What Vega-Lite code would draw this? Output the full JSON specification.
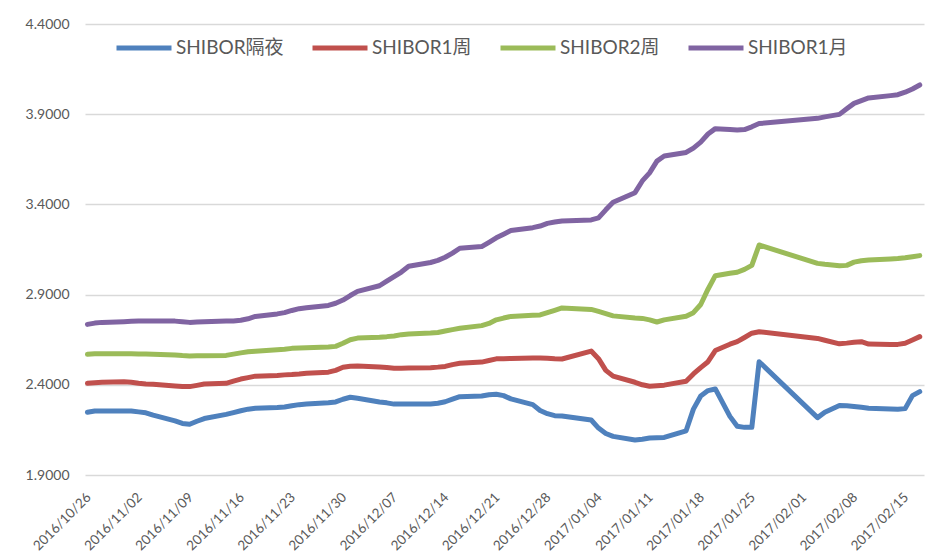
{
  "$schema": "https://vega.github.io/schema/vega-lite/v6.json",
  "autosize": {"type": "none"},
  "padding": {"left": 85, "top": 24, "right": 18, "bottom": 83},
  "width": 839,
  "height": 451,
  "background": "white",
  "config": {
    "view": {"stroke": null},
    "font": "Lato, Noto Sans CJK SC",
    "axis": {"labelFont": "Lato, Noto Sans CJK SC", "labelColor": "#595959"},
    "legend": {"labelFont": "Lato, Noto Sans CJK SC"}
  },
  "data": {
    "values": [
      {"d": "2016/10/26", "SHIBOR隔夜": 2.248, "SHIBOR1周": 2.408, "SHIBOR2周": 2.569, "SHIBOR1月": 2.735},
      {"d": "2016/10/27", "SHIBOR隔夜": 2.255, "SHIBOR1周": 2.411, "SHIBOR2周": 2.572, "SHIBOR1月": 2.742},
      {"d": "2016/10/28", "SHIBOR隔夜": 2.255, "SHIBOR1周": 2.414, "SHIBOR2周": 2.572, "SHIBOR1月": 2.746},
      {"d": "2016/10/31", "SHIBOR隔夜": 2.255, "SHIBOR1周": 2.417, "SHIBOR2周": 2.572, "SHIBOR1月": 2.750},
      {"d": "2016/11/01", "SHIBOR隔夜": 2.255, "SHIBOR1周": 2.414, "SHIBOR2周": 2.572, "SHIBOR1月": 2.752},
      {"d": "2016/11/02", "SHIBOR隔夜": 2.250, "SHIBOR1周": 2.409, "SHIBOR2周": 2.571, "SHIBOR1月": 2.754},
      {"d": "2016/11/03", "SHIBOR隔夜": 2.245, "SHIBOR1周": 2.405, "SHIBOR2周": 2.571, "SHIBOR1月": 2.754},
      {"d": "2016/11/04", "SHIBOR隔夜": 2.232, "SHIBOR1周": 2.403, "SHIBOR2周": 2.569, "SHIBOR1月": 2.754},
      {"d": "2016/11/07", "SHIBOR隔夜": 2.200, "SHIBOR1周": 2.394, "SHIBOR2周": 2.565, "SHIBOR1月": 2.753},
      {"d": "2016/11/08", "SHIBOR隔夜": 2.186, "SHIBOR1周": 2.391, "SHIBOR2周": 2.562, "SHIBOR1月": 2.750},
      {"d": "2016/11/09", "SHIBOR隔夜": 2.181, "SHIBOR1周": 2.390, "SHIBOR2周": 2.560, "SHIBOR1月": 2.746},
      {"d": "2016/11/10", "SHIBOR隔夜": 2.198, "SHIBOR1周": 2.397, "SHIBOR2周": 2.561, "SHIBOR1月": 2.748},
      {"d": "2016/11/11", "SHIBOR隔夜": 2.213, "SHIBOR1周": 2.404, "SHIBOR2周": 2.561, "SHIBOR1月": 2.750},
      {"d": "2016/11/14", "SHIBOR隔夜": 2.236, "SHIBOR1周": 2.408, "SHIBOR2周": 2.563, "SHIBOR1月": 2.753},
      {"d": "2016/11/15", "SHIBOR隔夜": 2.246, "SHIBOR1周": 2.420, "SHIBOR2周": 2.570, "SHIBOR1月": 2.754},
      {"d": "2016/11/16", "SHIBOR隔夜": 2.256, "SHIBOR1周": 2.432, "SHIBOR2周": 2.577, "SHIBOR1月": 2.758},
      {"d": "2016/11/17", "SHIBOR隔夜": 2.265, "SHIBOR1周": 2.440, "SHIBOR2周": 2.583, "SHIBOR1月": 2.766},
      {"d": "2016/11/18", "SHIBOR隔夜": 2.270, "SHIBOR1周": 2.448, "SHIBOR2周": 2.586, "SHIBOR1月": 2.779},
      {"d": "2016/11/21", "SHIBOR隔夜": 2.274, "SHIBOR1周": 2.452, "SHIBOR2周": 2.594, "SHIBOR1月": 2.793},
      {"d": "2016/11/22", "SHIBOR隔夜": 2.277, "SHIBOR1周": 2.455, "SHIBOR2周": 2.597, "SHIBOR1月": 2.800},
      {"d": "2016/11/23", "SHIBOR隔夜": 2.284, "SHIBOR1周": 2.457, "SHIBOR2周": 2.602, "SHIBOR1月": 2.812},
      {"d": "2016/11/24", "SHIBOR隔夜": 2.290, "SHIBOR1周": 2.460, "SHIBOR2周": 2.604, "SHIBOR1月": 2.822},
      {"d": "2016/11/25", "SHIBOR隔夜": 2.293, "SHIBOR1周": 2.464, "SHIBOR2周": 2.606, "SHIBOR1月": 2.827},
      {"d": "2016/11/28", "SHIBOR隔夜": 2.301, "SHIBOR1周": 2.470, "SHIBOR2周": 2.610, "SHIBOR1月": 2.840},
      {"d": "2016/11/29", "SHIBOR隔夜": 2.305, "SHIBOR1周": 2.480, "SHIBOR2周": 2.613, "SHIBOR1月": 2.852},
      {"d": "2016/11/30", "SHIBOR隔夜": 2.320, "SHIBOR1周": 2.497, "SHIBOR2周": 2.630, "SHIBOR1月": 2.870},
      {"d": "2016/12/01", "SHIBOR隔夜": 2.331, "SHIBOR1周": 2.503, "SHIBOR2周": 2.650, "SHIBOR1月": 2.895},
      {"d": "2016/12/02", "SHIBOR隔夜": 2.325, "SHIBOR1周": 2.504, "SHIBOR2周": 2.659, "SHIBOR1月": 2.918},
      {"d": "2016/12/05", "SHIBOR隔夜": 2.305, "SHIBOR1周": 2.499, "SHIBOR2周": 2.664, "SHIBOR1月": 2.949},
      {"d": "2016/12/06", "SHIBOR隔夜": 2.300, "SHIBOR1周": 2.496, "SHIBOR2周": 2.667, "SHIBOR1月": 2.975},
      {"d": "2016/12/07", "SHIBOR隔夜": 2.293, "SHIBOR1周": 2.492, "SHIBOR2周": 2.671, "SHIBOR1月": 3.000},
      {"d": "2016/12/08", "SHIBOR隔夜": 2.294, "SHIBOR1周": 2.492, "SHIBOR2周": 2.678, "SHIBOR1月": 3.025},
      {"d": "2016/12/09", "SHIBOR隔夜": 2.294, "SHIBOR1周": 2.493, "SHIBOR2周": 2.682, "SHIBOR1月": 3.057},
      {"d": "2016/12/12", "SHIBOR隔夜": 2.294, "SHIBOR1周": 2.495, "SHIBOR2周": 2.687, "SHIBOR1月": 3.078},
      {"d": "2016/12/13", "SHIBOR隔夜": 2.298, "SHIBOR1周": 2.498, "SHIBOR2周": 2.690, "SHIBOR1月": 3.090},
      {"d": "2016/12/14", "SHIBOR隔夜": 2.306, "SHIBOR1周": 2.502, "SHIBOR2周": 2.698, "SHIBOR1月": 3.107},
      {"d": "2016/12/15", "SHIBOR隔夜": 2.320, "SHIBOR1周": 2.512, "SHIBOR2周": 2.706, "SHIBOR1月": 3.130},
      {"d": "2016/12/16", "SHIBOR隔夜": 2.334, "SHIBOR1周": 2.519, "SHIBOR2周": 2.713, "SHIBOR1月": 3.157},
      {"d": "2016/12/19", "SHIBOR隔夜": 2.338, "SHIBOR1周": 2.526, "SHIBOR2周": 2.728, "SHIBOR1月": 3.166},
      {"d": "2016/12/20", "SHIBOR隔夜": 2.345, "SHIBOR1周": 2.535, "SHIBOR2周": 2.740, "SHIBOR1月": 3.190},
      {"d": "2016/12/21", "SHIBOR隔夜": 2.348, "SHIBOR1周": 2.544, "SHIBOR2周": 2.760, "SHIBOR1月": 3.215},
      {"d": "2016/12/22", "SHIBOR隔夜": 2.340, "SHIBOR1周": 2.545, "SHIBOR2周": 2.770, "SHIBOR1月": 3.235},
      {"d": "2016/12/23", "SHIBOR隔夜": 2.322, "SHIBOR1周": 2.546, "SHIBOR2周": 2.779, "SHIBOR1月": 3.255},
      {"d": "2016/12/26", "SHIBOR隔夜": 2.290, "SHIBOR1周": 2.548, "SHIBOR2周": 2.785, "SHIBOR1月": 3.271},
      {"d": "2016/12/27", "SHIBOR隔夜": 2.258, "SHIBOR1周": 2.548, "SHIBOR2周": 2.787, "SHIBOR1月": 3.280},
      {"d": "2016/12/28", "SHIBOR隔夜": 2.240, "SHIBOR1周": 2.547, "SHIBOR2周": 2.800, "SHIBOR1月": 3.295},
      {"d": "2016/12/29", "SHIBOR隔夜": 2.229, "SHIBOR1周": 2.544, "SHIBOR2周": 2.813, "SHIBOR1月": 3.302},
      {"d": "2016/12/30", "SHIBOR隔夜": 2.227, "SHIBOR1周": 2.543, "SHIBOR2周": 2.826, "SHIBOR1月": 3.308},
      {"d": "2017/01/03", "SHIBOR隔夜": 2.205, "SHIBOR1周": 2.587, "SHIBOR2周": 2.818, "SHIBOR1月": 3.314},
      {"d": "2017/01/04", "SHIBOR隔夜": 2.160, "SHIBOR1周": 2.545, "SHIBOR2周": 2.807, "SHIBOR1月": 3.325},
      {"d": "2017/01/05", "SHIBOR隔夜": 2.130, "SHIBOR1周": 2.480, "SHIBOR2周": 2.795, "SHIBOR1月": 3.370},
      {"d": "2017/01/06", "SHIBOR隔夜": 2.114, "SHIBOR1周": 2.448, "SHIBOR2周": 2.782, "SHIBOR1月": 3.412},
      {"d": "2017/01/09", "SHIBOR隔夜": 2.094, "SHIBOR1周": 2.414, "SHIBOR2周": 2.770, "SHIBOR1月": 3.465},
      {"d": "2017/01/10", "SHIBOR隔夜": 2.098, "SHIBOR1周": 2.400, "SHIBOR2周": 2.768, "SHIBOR1月": 3.530},
      {"d": "2017/01/11", "SHIBOR隔夜": 2.105, "SHIBOR1周": 2.392, "SHIBOR2周": 2.760, "SHIBOR1月": 3.575},
      {"d": "2017/01/12", "SHIBOR隔夜": 2.107, "SHIBOR1周": 2.395, "SHIBOR2周": 2.748, "SHIBOR1月": 3.640},
      {"d": "2017/01/13", "SHIBOR隔夜": 2.108, "SHIBOR1周": 2.398, "SHIBOR2周": 2.760, "SHIBOR1月": 3.668},
      {"d": "2017/01/16", "SHIBOR隔夜": 2.145, "SHIBOR1周": 2.420, "SHIBOR2周": 2.780, "SHIBOR1月": 3.688},
      {"d": "2017/01/17", "SHIBOR隔夜": 2.265, "SHIBOR1周": 2.460, "SHIBOR2周": 2.800, "SHIBOR1月": 3.712},
      {"d": "2017/01/18", "SHIBOR隔夜": 2.338, "SHIBOR1周": 2.495, "SHIBOR2周": 2.845, "SHIBOR1月": 3.745},
      {"d": "2017/01/19", "SHIBOR隔夜": 2.368, "SHIBOR1周": 2.528, "SHIBOR2周": 2.930, "SHIBOR1月": 3.790},
      {"d": "2017/01/20", "SHIBOR隔夜": 2.377, "SHIBOR1周": 2.590, "SHIBOR2周": 3.005, "SHIBOR1月": 3.820},
      {"d": "2017/01/22", "SHIBOR隔夜": 2.225, "SHIBOR1周": 2.625, "SHIBOR2周": 3.018, "SHIBOR1月": 3.815},
      {"d": "2017/01/23", "SHIBOR隔夜": 2.170, "SHIBOR1周": 2.639, "SHIBOR2周": 3.024, "SHIBOR1月": 3.812},
      {"d": "2017/01/24", "SHIBOR隔夜": 2.164, "SHIBOR1周": 2.662, "SHIBOR2周": 3.040, "SHIBOR1月": 3.815},
      {"d": "2017/01/25", "SHIBOR隔夜": 2.164, "SHIBOR1周": 2.686, "SHIBOR2周": 3.062, "SHIBOR1月": 3.830},
      {"d": "2017/01/26", "SHIBOR隔夜": 2.528, "SHIBOR1周": 2.694, "SHIBOR2周": 3.175, "SHIBOR1月": 3.848},
      {"d": "2017/02/03", "SHIBOR隔夜": 2.218, "SHIBOR1周": 2.657, "SHIBOR2周": 3.073, "SHIBOR1月": 3.877},
      {"d": "2017/02/04", "SHIBOR隔夜": 2.248, "SHIBOR1周": 2.647, "SHIBOR2周": 3.068, "SHIBOR1月": 3.885},
      {"d": "2017/02/06", "SHIBOR隔夜": 2.285, "SHIBOR1周": 2.627, "SHIBOR2周": 3.060, "SHIBOR1月": 3.899},
      {"d": "2017/02/07", "SHIBOR隔夜": 2.284, "SHIBOR1周": 2.631, "SHIBOR2周": 3.062, "SHIBOR1月": 3.930},
      {"d": "2017/02/08", "SHIBOR隔夜": 2.280, "SHIBOR1周": 2.636, "SHIBOR2周": 3.080, "SHIBOR1月": 3.960},
      {"d": "2017/02/09", "SHIBOR隔夜": 2.275, "SHIBOR1周": 2.639, "SHIBOR2周": 3.088, "SHIBOR1月": 3.975},
      {"d": "2017/02/10", "SHIBOR隔夜": 2.270, "SHIBOR1周": 2.626, "SHIBOR2周": 3.092, "SHIBOR1月": 3.990},
      {"d": "2017/02/13", "SHIBOR隔夜": 2.266, "SHIBOR1周": 2.624, "SHIBOR2周": 3.098, "SHIBOR1月": 4.003},
      {"d": "2017/02/14", "SHIBOR隔夜": 2.264, "SHIBOR1周": 2.624, "SHIBOR2周": 3.100, "SHIBOR1月": 4.008},
      {"d": "2017/02/15", "SHIBOR隔夜": 2.268, "SHIBOR1周": 2.630, "SHIBOR2周": 3.104, "SHIBOR1月": 4.022},
      {"d": "2017/02/16", "SHIBOR隔夜": 2.340, "SHIBOR1周": 2.648, "SHIBOR2周": 3.110, "SHIBOR1月": 4.040},
      {"d": "2017/02/17", "SHIBOR隔夜": 2.362, "SHIBOR1周": 2.667, "SHIBOR2周": 3.116, "SHIBOR1月": 4.062}
    ]
  },
  "transform": [
    {"fold": ["SHIBOR隔夜", "SHIBOR1周", "SHIBOR2周", "SHIBOR1月"], "as": ["series", "value"]}
  ],
  "mark": {"type": "line", "strokeWidth": 5, "strokeCap": "round", "strokeJoin": "round"},
  "encoding": {
    "x": {
      "field": "d",
      "type": "temporal",
      "scale": {
        "domain": [
          {"year": 2016, "month": 10, "date": 25, "hours": 16},
          {"year": 2017, "month": 2, "date": 17, "hours": 14}
        ]
      },
      "axis": {
        "title": null,
        "format": "%Y/%m/%d",
        "labelAngle": -45,
        "labelFontSize": 13.5,
        "labelPadding": 15,
        "labelOffset": -4,
        "domain": false,
        "ticks": false,
        "grid": false,
        "labelOverlap": false,
        "values": [
          {"year": 2016, "month": 10, "date": 26},
          {"year": 2016, "month": 11, "date": 2},
          {"year": 2016, "month": 11, "date": 9},
          {"year": 2016, "month": 11, "date": 16},
          {"year": 2016, "month": 11, "date": 23},
          {"year": 2016, "month": 11, "date": 30},
          {"year": 2016, "month": 12, "date": 7},
          {"year": 2016, "month": 12, "date": 14},
          {"year": 2016, "month": 12, "date": 21},
          {"year": 2016, "month": 12, "date": 28},
          {"year": 2017, "month": 1, "date": 4},
          {"year": 2017, "month": 1, "date": 11},
          {"year": 2017, "month": 1, "date": 18},
          {"year": 2017, "month": 1, "date": 25},
          {"year": 2017, "month": 2, "date": 1},
          {"year": 2017, "month": 2, "date": 8},
          {"year": 2017, "month": 2, "date": 15}
        ]
      }
    },
    "y": {
      "field": "value",
      "type": "quantitative",
      "scale": {"domain": [1.9, 4.4], "nice": false, "zero": false},
      "axis": {
        "title": null,
        "format": ".4f",
        "values": [1.9, 2.4, 2.9, 3.4, 3.9, 4.4],
        "labelFontSize": 14,
        "labelPadding": 16,
        "domain": false,
        "ticks": false,
        "grid": true,
        "gridColor": "#d9d9d9",
        "gridWidth": 1.3
      }
    },
    "color": {
      "field": "series",
      "type": "nominal",
      "scale": {
        "domain": ["SHIBOR隔夜", "SHIBOR1周", "SHIBOR2周", "SHIBOR1月"],
        "range": ["#4f81bd", "#c0504d", "#9bbb59", "#8064a2"]
      },
      "legend": {
        "title": null,
        "orient": "none",
        "legendX": 29,
        "legendY": -6,
        "direction": "horizontal",
        "symbolType": "stroke",
        "symbolSize": 3025,
        "symbolStrokeWidth": 5,
        "labelFontSize": 19,
        "labelColor": "#595959",
        "labelOffset": 2,
        "columnPadding": 18,
        "padding": 0
      }
    }
  }
}
